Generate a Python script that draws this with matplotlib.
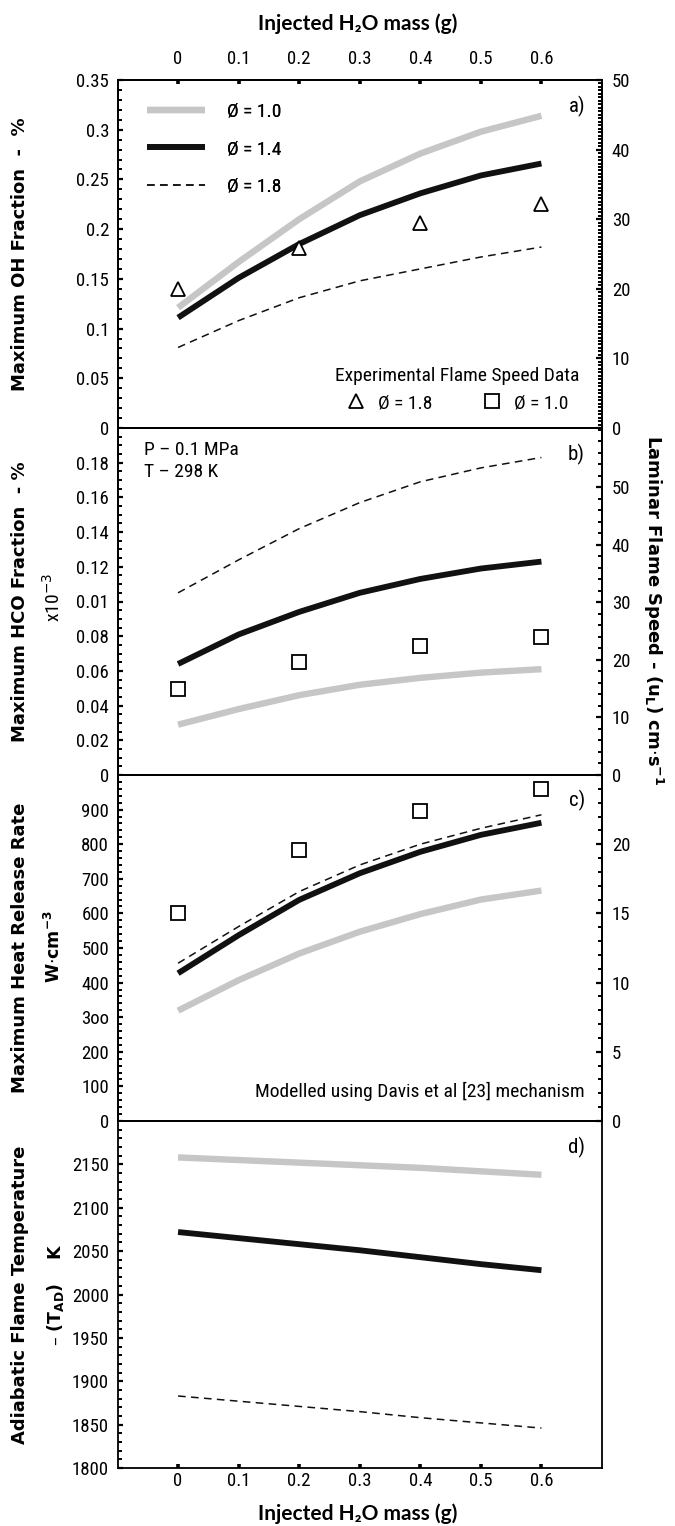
import matplotlib
matplotlib.use("Agg")
import matplotlib.pyplot as plt
from matplotlib import font_manager
from matplotlib.lines import Line2D
from matplotlib.ticker import FixedLocator, MultipleLocator, FixedFormatter

# ---------------- data ----------------
water_mass = [0.0, 0.1, 0.2, 0.3, 0.4, 0.5, 0.6]
exp_mass = [0.0, 0.2, 0.4, 0.6]

oh_phi10 = [0.121, 0.167, 0.210, 0.248, 0.276, 0.298, 0.314]
oh_phi14 = [0.111, 0.151, 0.185, 0.214, 0.236, 0.254, 0.266]
oh_phi18 = [0.081, 0.108, 0.131, 0.148, 0.160, 0.172, 0.182]

hco_phi10 = [0.029, 0.038, 0.046, 0.052, 0.056, 0.059, 0.061]
hco_phi14 = [0.064, 0.081, 0.094, 0.105, 0.113, 0.119, 0.123]
hco_phi18 = [0.105, 0.124, 0.142, 0.157, 0.169, 0.177, 0.183]

hrr_phi10 = [319, 407, 484, 547, 598, 640, 666]
hrr_phi14 = [427, 537, 639, 716, 778, 827, 862]
hrr_phi18 = [456, 562, 663, 740, 800, 846, 885]

tad_phi10 = [2158, 2155, 2152, 2149, 2146, 2142, 2138]
tad_phi14 = [2072, 2065, 2058, 2051, 2043, 2035, 2028]
tad_phi18 = [1883, 1877, 1871, 1865, 1858, 1852, 1846]

# measured laminar flame speeds (cm/s)
su_phi18 = [20.0, 25.9, 29.4, 32.2]
su_phi10 = [15.0, 19.6, 22.4, 24.0]

x_ticks = [0, 0.1, 0.2, 0.3, 0.4, 0.5, 0.6]
x_ticklabels = ["0", "0.1", "0.2", "0.3", "0.4", "0.5", "0.6"]

oh_ticks = [0, 0.05, 0.1, 0.15, 0.2, 0.25, 0.3, 0.35]
oh_ticklabels = ["0", "0.05", "0.1", "0.15", "0.2", "0.25", "0.3", "0.35"]
hco_ticks = [0, 0.02, 0.04, 0.06, 0.08, 0.10, 0.12, 0.14, 0.16, 0.18]
hco_ticklabels = ["0", "0.02", "0.04", "0.06", "0.08", "0.01", "0.12", "0.14", "0.16", "0.18"]
hrr_ticks = [0, 100, 200, 300, 400, 500, 600, 700, 800, 900]
hrr_ticklabels = ["0", "100", "200", "3oo", "400", "500", "600", "700", "800", "900"]
tad_ticks = [1800, 1850, 1900, 1950, 2000, 2050, 2100, 2150]
tad_ticklabels = ["1800", "1850", "1900", "1950", "2000", "2050", "2100", "2150"]

su_a_ticks = [0, 10, 20, 30, 40, 50]
su_b_ticks = [0, 10, 20, 30, 40, 50]
su_c_ticks = [0, 5, 10, 15, 20]

# ---------------- fonts ----------------
def pick(*names):
    for n in names:
        try:
            font_manager.findfont(font_manager.FontProperties(family=n), fallback_to_default=False)
            return n
        except Exception:
            pass
    return "DejaVu Sans"

NARROW = pick("Liberation Sans Narrow", "Roboto Condensed", "Liberation Sans")
TITLEF = pick("Lato", "Open Sans")
BOLDF = "DejaVu Sans"

TICK_FS = 13.5
TEXT_FS = 14
GRAY = "#c6c6c6"

fig = plt.figure(figsize=(6.75, 15.26), dpi=100)
W, H = 675.0, 1526.0
left, right = 117.5 / W, 602.0 / W
bounds = [80, 428, 775, 1121, 1468]
axes = []
for i in range(4):
    top = 1 - bounds[i] / H
    bot = 1 - bounds[i + 1] / H
    axes.append(fig.add_axes([left, bot, right - left, top - bot]))

YLAB_X = (29 - 117.5) / (602 - 117.5)


def style_left(ax, ticks, labels, ylim, minor):
    ax.set_xlim(-0.1, 0.7)
    ax.set_ylim(*ylim)
    ax.yaxis.set_major_locator(FixedLocator(ticks))
    ax.yaxis.set_major_formatter(FixedFormatter(labels))
    ax.yaxis.set_minor_locator(MultipleLocator(minor))
    ax.tick_params(axis="y", which="major", direction="in", length=3.5, width=1.6,
                   labelsize=TICK_FS, pad=6)
    ax.tick_params(axis="y", which="minor", direction="in", length=3, width=1.4)
    ax.tick_params(axis="x", which="both", bottom=False, top=False,
                   labelbottom=False, labeltop=False)
    for lab in ax.get_yticklabels():
        lab.set_fontfamily(NARROW)
    for s in ax.spines.values():
        s.set_linewidth(1.3)


def style_right(ax, ticks, ylim, minor):
    ax.set_ylim(*ylim)
    ax.yaxis.set_major_locator(FixedLocator(ticks))
    ax.yaxis.set_major_formatter(FixedFormatter([str(t) for t in ticks]))
    ax.yaxis.set_minor_locator(MultipleLocator(minor))
    ax.tick_params(axis="y", which="major", direction="in", length=4, width=1.6,
                   labelsize=TICK_FS, pad=7)
    ax.tick_params(axis="y", which="minor", direction="in", length=3, width=1.4)
    for lab in ax.get_yticklabels():
        lab.set_fontfamily(NARROW)
    for s in ax.spines.values():
        s.set_linewidth(1.3)


def curves(ax, y10, y14, y18):
    ax.plot(water_mass, y10, color=GRAY, lw=4.6, solid_capstyle="butt",
            solid_joinstyle="round", zorder=3)
    ax.plot(water_mass, y14, color="#111111", lw=4.2, solid_capstyle="butt",
            solid_joinstyle="round", zorder=4)
    ax.plot(water_mass, y18, color="#111111", lw=1.1, ls=(0, (5, 3.5)), zorder=4)


def panel_tag(ax, s):
    ax.text(0.965, 0.925, s, transform=ax.transAxes, ha="right", va="center",
            fontsize=15, fontfamily=NARROW)


def x_axis(ax, where):
    ax.xaxis.set_major_locator(FixedLocator(x_ticks))
    ax.xaxis.set_major_formatter(FixedFormatter(x_ticklabels))
    if where == "top":
        ax.tick_params(axis="x", which="major", top=True, labeltop=True, direction="in",
                       length=3, width=2.6, labelsize=TICK_FS, pad=9)
    else:
        ax.tick_params(axis="x", which="major", bottom=True, labelbottom=True,
                       direction="in", length=3, width=2.6, labelsize=TICK_FS, pad=3)
    for lab in ax.get_xticklabels():
        lab.set_fontfamily(NARROW)


mk = dict(ls="none", markerfacecolor="white", markeredgecolor="black",
          markeredgewidth=1.3, markersize=9.5, zorder=6)
YLAB_FS = 13

# ---- a) OH ----
ax = axes[0]
curves(ax, oh_phi10, oh_phi14, oh_phi18)
style_left(ax, oh_ticks, oh_ticklabels, (0, 0.35), 0.01)
x_axis(ax, "top")
axr = ax.twinx()
style_right(axr, su_a_ticks, (0, 50), 0.5)
axr.plot(exp_mass, su_phi18, marker="^", **mk)
panel_tag(ax, "a)")
ax.set_ylabel("Maximum OH Fraction  -  %", fontsize=YLAB_FS, fontweight="bold",
              fontfamily=BOLDF)
ax.yaxis.set_label_coords(YLAB_X, 0.5)
fig.text(358 / W, 1 - 24 / H, "Injected H\u2082O mass (g)", ha="center", va="center",
         fontsize=15, fontweight="bold", fontfamily=[TITLEF, "DejaVu Sans"])

leg_handles = [
    Line2D([], [], color=GRAY, lw=4.6, solid_capstyle="butt"),
    Line2D([], [], color="#111111", lw=4.2, solid_capstyle="butt"),
    Line2D([], [], color="#111111", lw=1.1, ls=(0, (5, 3.5))),
]
leg = ax.legend(leg_handles, ["\u00d8 = 1.0", "\u00d8 = 1.4", "\u00d8 = 1.8"],
                loc="upper left", bbox_to_anchor=(0.025, 0.985), frameon=False,
                handlelength=3.0, handletextpad=1.1, labelspacing=1.0,
                prop={"family": NARROW, "size": TEXT_FS})
ax.add_artist(leg)

exp_handles = [Line2D([], [], marker="^", **mk), Line2D([], [], marker="s", **mk)]
exp_leg = axr.legend(exp_handles, ["\u00d8 = 1.8", "\u00d8 = 1.0"], ncol=2,
                     loc="lower right", bbox_to_anchor=(0.99, -0.005), frameon=False,
                     title="Experimental Flame Speed Data",
                     columnspacing=2.6, handletextpad=0.6, handlelength=1.0,
                     prop={"family": NARROW, "size": TEXT_FS},
                     title_fontproperties={"family": NARROW, "size": TEXT_FS})

# ---- b) HCO ----
ax = axes[1]
curves(ax, hco_phi10, hco_phi14, hco_phi18)
style_left(ax, hco_ticks, hco_ticklabels, (0, 0.2), 0.005)
axr = ax.twinx()
style_right(axr, su_b_ticks, (0, 60.3), 2)
axr.plot(exp_mass, su_phi10, marker="s", **mk)
panel_tag(ax, "b)")
ax.text(0.055, 0.905, "P \u2013 0.1 MPa\nT \u2013 298 K", transform=ax.transAxes,
        ha="left", va="center", fontsize=TEXT_FS, fontfamily=NARROW, linespacing=1.35)
ax.set_ylabel("Maximum HCO Fraction  - %", fontsize=YLAB_FS, fontweight="bold",
              fontfamily=BOLDF)
ax.yaxis.set_label_coords(YLAB_X, 0.5)
fig.text(53 / W, 1 - 598 / H, r"x10$^{-3}$", rotation=90, ha="center", va="center",
         fontsize=14, fontfamily=NARROW)
axr.set_ylabel(r"Laminar Flame Speed - (u$_\mathregular{L}$) cm$\cdot$s$^{\mathregular{-1}}$",
               rotation=-90, fontsize=YLAB_FS, fontweight="bold", fontfamily=BOLDF)
axr.yaxis.set_label_coords((665 - 117.5) / (602 - 117.5), (775 - 610) / 347.0)

# ---- c) heat release ----
ax = axes[2]
curves(ax, hrr_phi10, hrr_phi14, hrr_phi18)
style_left(ax, hrr_ticks, hrr_ticklabels, (0, 1000), 20)
axr = ax.twinx()
style_right(axr, su_c_ticks, (0, 25), 1)
axr.plot(exp_mass, su_phi10, marker="s", **mk)
panel_tag(ax, "c)")
ax.text(0.965, 0.085, "Modelled using Davis et al [23] mechanism", transform=ax.transAxes,
        ha="right", va="center", fontsize=TEXT_FS, fontfamily=NARROW)
ax.set_ylabel("Maximum Heat Release Rate", fontsize=YLAB_FS, fontweight="bold",
              fontfamily=BOLDF)
ax.yaxis.set_label_coords(YLAB_X, 0.5)
fig.text(54 / W, 1 - 947 / H, r"W$\cdot$cm$^{\mathregular{-3}}$", rotation=90,
         ha="center", va="center", fontsize=12.5, fontweight="bold", fontfamily=BOLDF)

# ---- d) adiabatic flame temperature ----
ax = axes[3]
curves(ax, tad_phi10, tad_phi14, tad_phi18)
style_left(ax, tad_ticks, tad_ticklabels, (1800, 2200), 10)
x_axis(ax, "bottom")
panel_tag(ax, "d)")
ax.set_ylabel("Adiabatic Flame Temperature", fontsize=YLAB_FS, fontweight="bold",
              fontfamily=BOLDF)
ax.yaxis.set_label_coords(YLAB_X, 0.5)
fig.text(56 / W, 1 - 1295 / H, "\u2013 (T$_{\\mathregular{AD}}$)    K",
         rotation=90, ha="center", va="center", fontsize=12.5, fontweight="bold",
         fontfamily=BOLDF)
fig.text(358 / W, 1 - 1514 / H, "Injected H\u2082O mass (g)", ha="center", va="center",
         fontsize=15, fontweight="bold", fontfamily=[TITLEF, "DejaVu Sans"])

fig.savefig("out.png", dpi=100)
